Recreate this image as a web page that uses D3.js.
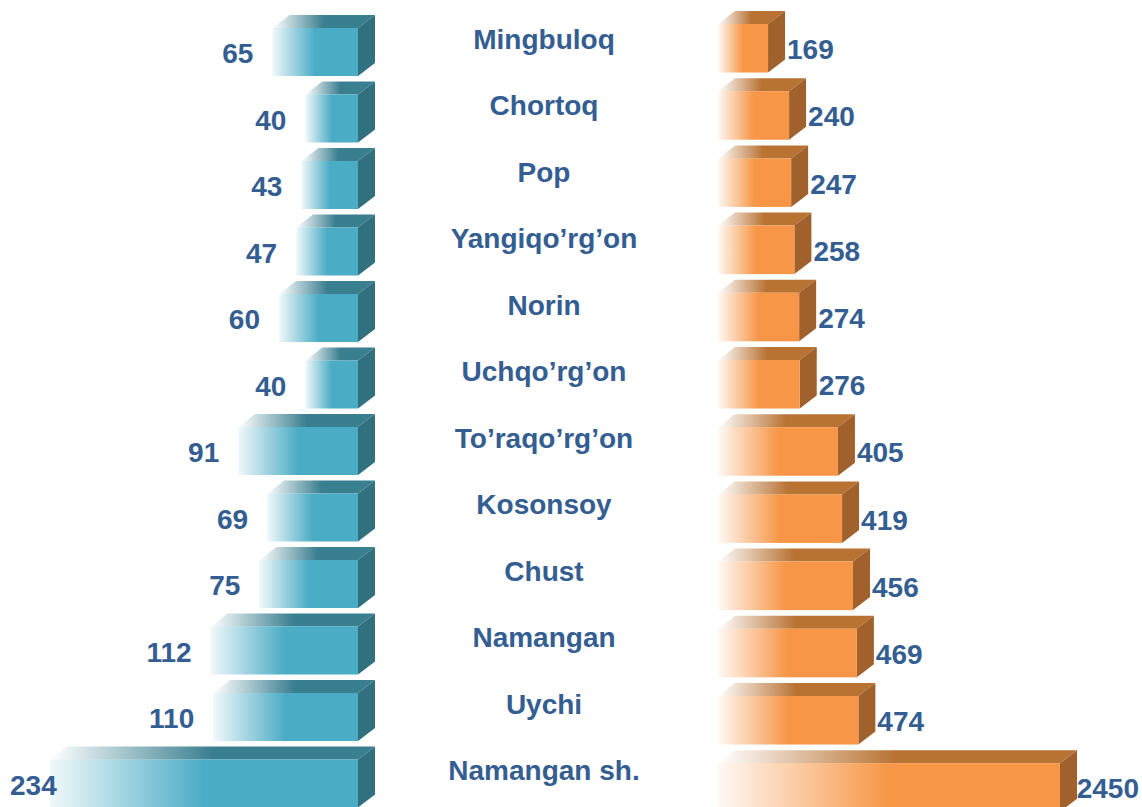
<!DOCTYPE html>
<html><head><meta charset="utf-8">
<script src="https://cdn.jsdelivr.net/npm/d3@7"></script>
<style>body{margin:0;background:#fff}svg{display:block}</style>
</head><body>
<script>
const categories = ["Mingbuloq","Chortoq","Pop","Yangiqo’rg’on","Norin","Uchqo’rg’on","To’raqo’rg’on","Kosonsoy","Chust","Namangan","Uychi","Namangan sh."];
const leftValues = [65,40,43,47,60,40,91,69,75,112,110,234];
const rightValues = [169,240,247,258,274,276,405,419,456,469,474,2450];

const W = 1142, H = 807;
const svg = d3.select("body").append("svg").attr("width", W).attr("height", H);
const defs = svg.append("defs");

function grad(id, color, o0) {
  const g = defs.append("linearGradient").attr("id", id).attr("x1", 0).attr("x2", 1).attr("y1", 0).attr("y2", 0);
  g.append("stop").attr("offset", 0).attr("stop-color", color).attr("stop-opacity", o0);
  g.append("stop").attr("offset", 0.5).attr("stop-color", color).attr("stop-opacity", 1);
  g.append("stop").attr("offset", 1).attr("stop-color", color).attr("stop-opacity", 1);
}
grad("bFront", "#4BACC6", 0.08);
grad("bTop", "#3A7F90", 0.0);
grad("oFront", "#F79646", 0.06);
grad("oTop", "#B87232", 0.0);

const yL = d3.scaleBand().domain(categories).range([28, 28 + 66.5 * 11.722]).paddingInner(0.278).paddingOuter(0).align(0);
const yR = d3.scaleBand().domain(categories).range([24, 24 + 67.2 * 11.722]).paddingInner(0.278).paddingOuter(0).align(0);
const xL = d3.scaleLinear().domain([0, 234]).range([358, 50]);
const xR = d3.scaleLinear().domain([0, 1155]).range([718, 1060]).clamp(true);

const dx = 17, dy = 13;
const font = "'Liberation Sans', Arial, sans-serif";
const textColor = "#345E92";
const fs = 28;

function drawBar(g, x0, x1, y0, h, front, top, side) {
  g.append("polygon").attr("points", [[x0, y0], [x1, y0], [x1 + dx, y0 - dy], [x0 + dx, y0 - dy]].map(p => p.join(",")).join(" ")).attr("fill", `url(#${top})`);
  g.append("polygon").attr("points", [[x1, y0], [x1 + dx, y0 - dy], [x1 + dx, y0 + h - dy], [x1, y0 + h]].map(p => p.join(",")).join(" ")).attr("fill", side);
  g.append("rect").attr("x", x0).attr("y", y0).attr("width", x1 - x0).attr("height", h).attr("fill", `url(#${front})`);
}

// left bars
categories.forEach((c, i) => {
  const g = svg.append("g");
  const x0 = xL(leftValues[i]), x1 = xL(0), y0 = yL(c), h = yL.bandwidth();
  drawBar(g, x0, x1, y0, h, "bFront", "bTop", "#31707F");
  const t = svg.append("text").attr("x", x0 - 19).attr("y", y0 + h / 2 + 11)
    .attr("text-anchor", "end").attr("font-family", font).attr("font-weight", "bold")
    .attr("font-size", fs).attr("fill", textColor).text(leftValues[i]);
  const w = t.node().getComputedTextLength();
  if (x0 - 19 - w < 10) t.attr("text-anchor", "start").attr("x", 10);
});

// right bars
categories.forEach((c, i) => {
  const g = svg.append("g");
  const x0 = xR(0), x1 = xR(rightValues[i]), y0 = yR(c), h = yR.bandwidth();
  drawBar(g, x0, x1, y0, h, "oFront", "oTop", "#A0612C");
  const t = svg.append("text").attr("x", x1 + dx + 2).attr("y", y0 + h / 2 + 11)
    .attr("font-family", font).attr("font-weight", "bold")
    .attr("font-size", fs).attr("fill", textColor).text(rightValues[i]);
  const w = t.node().getComputedTextLength();
  if (x1 + dx + 2 + w > 1139) t.attr("x", 1139 - w);
});

// category labels
svg.selectAll("text.cat").data(categories).enter().append("text").attr("class", "cat")
  .attr("x", 544).attr("y", d => yL(d) + 20.5).attr("text-anchor", "middle")
  .attr("font-family", font).attr("font-weight", "bold").attr("font-size", fs)
  .attr("fill", textColor).text(d => d);
</script>
</body></html>
